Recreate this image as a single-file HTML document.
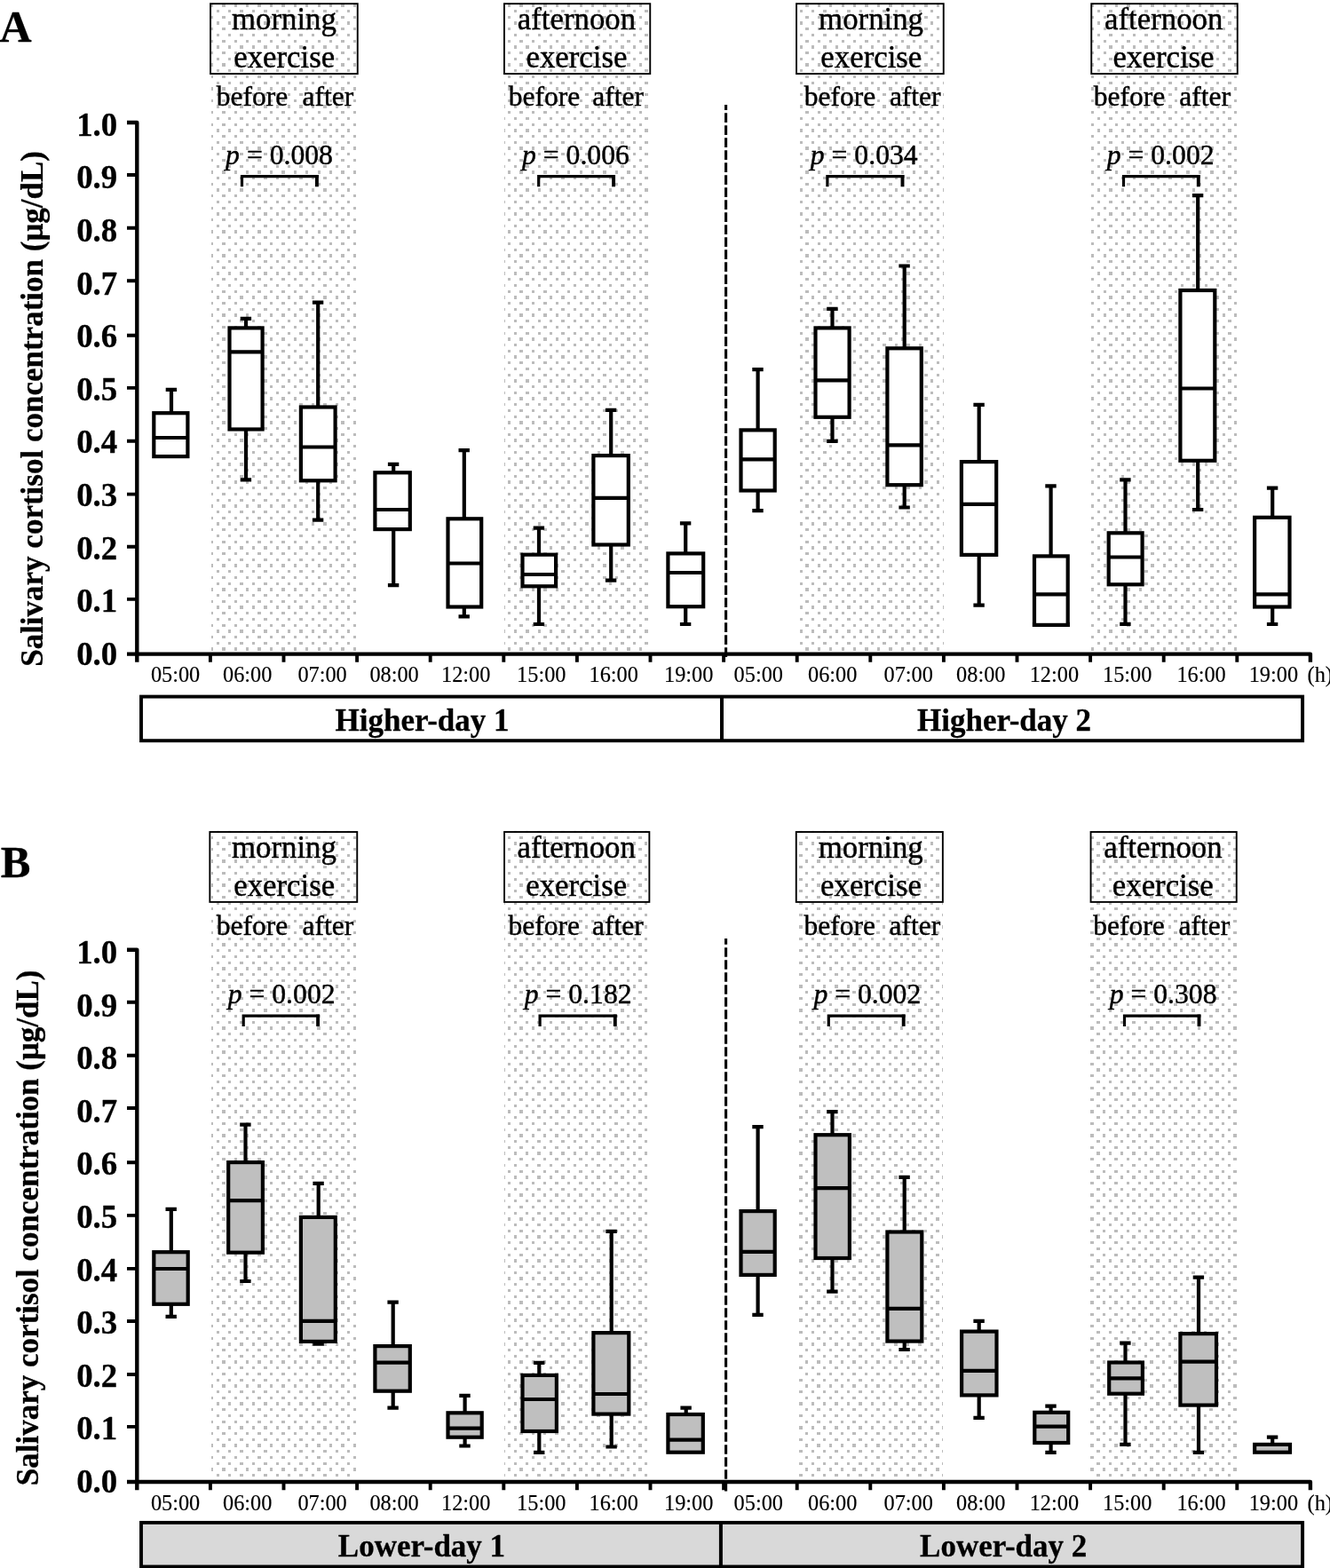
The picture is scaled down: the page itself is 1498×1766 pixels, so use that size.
<!DOCTYPE html>
<html lang="en"><head><meta charset="utf-8"><title>Salivary cortisol concentration</title>
<style>html,body{margin:0;padding:0;background:#fff}svg{display:block}</style></head>
<body>
<svg width="1498" height="1766" viewBox="0 0 1498 1766" font-family="'Liberation Serif','Times New Roman',Times,serif" fill="#000">
<style>text{stroke:#000;stroke-width:0.45px;stroke-linejoin:round}text[font-weight=bold]{stroke-width:0.3px}text.t{stroke-width:0.15px}</style>
<defs><path id="dp" d="M0 1h4v3h-4zM7 8h3v3h-3zM14 1h3v3h-3zM20 8h4v3h-4zM27 1h3v3h-3zM34 8h3v3h-3zM40 1h4v3h-4zM47 8h4v3h-4zM54 1h3v3h-3zM61 8h3v3h-3zM67 1h4v3h-4zM74 8h3v3h-3zM81 1h3v3h-3zM87 8h4v3h-4zM94 1h3v3h-3zM101 8h3v3h-3zM108 1h3v3h-3zM114 8h4v3h-4zM121 1h3v3h-3zM128 8h3v3h-3zM134 1h4v3h-4zM141 8h3v3h-3zM148 1h3v3h-3zM154 8h4v3h-4zM161 1h4v3h-4zM168 8h3v3h-3zM175 1h3v3h-3zM181 8h4v3h-4zM188 1h3v3h-3zM195 8h3v3h-3zM201 1h4v3h-4zM208 8h3v3h-3zM215 1h3v3h-3zM222 8h3v3h-3zM228 1h4v3h-4zM235 8h3v3h-3zM242 1h3v3h-3zM248 8h4v3h-4zM255 1h3v3h-3zM262 8h3v3h-3zM268 1h4v3h-4zM275 8h4v3h-4zM282 1h3v3h-3zM289 8h3v3h-3zM0 14h4v4h-4zM7 21h3v3h-3zM14 14h3v4h-3zM20 21h4v3h-4zM27 14h3v4h-3zM34 21h3v3h-3zM40 14h4v4h-4zM47 21h4v3h-4zM54 14h3v4h-3zM61 21h3v3h-3zM67 14h4v4h-4zM74 21h3v3h-3zM81 14h3v4h-3zM87 21h4v3h-4zM94 14h3v4h-3zM101 21h3v3h-3zM108 14h3v4h-3zM114 21h4v3h-4zM121 14h3v4h-3zM128 21h3v3h-3zM134 14h4v4h-4zM141 21h3v3h-3zM148 14h3v4h-3zM154 21h4v3h-4zM161 14h4v4h-4zM168 21h3v3h-3zM175 14h3v4h-3zM181 21h4v3h-4zM188 14h3v4h-3zM195 21h3v3h-3zM201 14h4v4h-4zM208 21h3v3h-3zM215 14h3v4h-3zM222 21h3v3h-3zM228 14h4v4h-4zM235 21h3v3h-3zM242 14h3v4h-3zM248 21h4v3h-4zM255 14h3v4h-3zM262 21h3v3h-3zM268 14h4v4h-4zM275 21h4v3h-4zM282 14h3v4h-3zM289 21h3v3h-3zM0 28h4v3h-4zM7 34h3v4h-3zM14 28h3v3h-3zM20 34h4v4h-4zM27 28h3v3h-3zM34 34h3v4h-3zM40 28h4v3h-4zM47 34h4v4h-4zM54 28h3v3h-3zM61 34h3v4h-3zM67 28h4v3h-4zM74 34h3v4h-3zM81 28h3v3h-3zM87 34h4v4h-4zM94 28h3v3h-3zM101 34h3v4h-3zM108 28h3v3h-3zM114 34h4v4h-4zM121 28h3v3h-3zM128 34h3v4h-3zM134 28h4v3h-4zM141 34h3v4h-3zM148 28h3v3h-3zM154 34h4v4h-4zM161 28h4v3h-4zM168 34h3v4h-3zM175 28h3v3h-3zM181 34h4v4h-4zM188 28h3v3h-3zM195 34h3v4h-3zM201 28h4v3h-4zM208 34h3v4h-3zM215 28h3v3h-3zM222 34h3v4h-3zM228 28h4v3h-4zM235 34h3v4h-3zM242 28h3v3h-3zM248 34h4v4h-4zM255 28h3v3h-3zM262 34h3v4h-3zM268 28h4v3h-4zM275 34h4v4h-4zM282 28h3v3h-3zM289 34h3v4h-3zM0 41h4v3h-4zM7 48h3v3h-3zM14 41h3v3h-3zM20 48h4v3h-4zM27 41h3v3h-3zM34 48h3v3h-3zM40 41h4v3h-4zM47 48h4v3h-4zM54 41h3v3h-3zM61 48h3v3h-3zM67 41h4v3h-4zM74 48h3v3h-3zM81 41h3v3h-3zM87 48h4v3h-4zM94 41h3v3h-3zM101 48h3v3h-3zM108 41h3v3h-3zM114 48h4v3h-4zM121 41h3v3h-3zM128 48h3v3h-3zM134 41h4v3h-4zM141 48h3v3h-3zM148 41h3v3h-3zM154 48h4v3h-4zM161 41h4v3h-4zM168 48h3v3h-3zM175 41h3v3h-3zM181 48h4v3h-4zM188 41h3v3h-3zM195 48h3v3h-3zM201 41h4v3h-4zM208 48h3v3h-3zM215 41h3v3h-3zM222 48h3v3h-3zM228 41h4v3h-4zM235 48h3v3h-3zM242 41h3v3h-3zM248 48h4v3h-4zM255 41h3v3h-3zM262 48h3v3h-3zM268 41h4v3h-4zM275 48h4v3h-4zM282 41h3v3h-3zM289 48h3v3h-3zM0 55h4v3h-4zM7 61h3v4h-3zM14 55h3v3h-3zM20 61h4v4h-4zM27 55h3v3h-3zM34 61h3v4h-3zM40 55h4v3h-4zM47 61h4v4h-4zM54 55h3v3h-3zM61 61h3v4h-3zM67 55h4v3h-4zM74 61h3v4h-3zM81 55h3v3h-3zM87 61h4v4h-4zM94 55h3v3h-3zM101 61h3v4h-3zM108 55h3v3h-3zM114 61h4v4h-4zM121 55h3v3h-3zM128 61h3v4h-3zM134 55h4v3h-4zM141 61h3v4h-3zM148 55h3v3h-3zM154 61h4v4h-4zM161 55h4v3h-4zM168 61h3v4h-3zM175 55h3v3h-3zM181 61h4v4h-4zM188 55h3v3h-3zM195 61h3v4h-3zM201 55h4v3h-4zM208 61h3v4h-3zM215 55h3v3h-3zM222 61h3v4h-3zM228 55h4v3h-4zM235 61h3v4h-3zM242 55h3v3h-3zM248 61h4v4h-4zM255 55h3v3h-3zM262 61h3v4h-3zM268 55h4v3h-4zM275 61h4v4h-4zM282 55h3v3h-3zM289 61h3v4h-3zM0 68h4v3h-4zM7 75h3v3h-3zM14 68h3v3h-3zM20 75h4v3h-4zM27 68h3v3h-3zM34 75h3v3h-3zM40 68h4v3h-4zM47 75h4v3h-4zM54 68h3v3h-3zM61 75h3v3h-3zM67 68h4v3h-4zM74 75h3v3h-3zM81 68h3v3h-3zM87 75h4v3h-4zM94 68h3v3h-3zM101 75h3v3h-3zM108 68h3v3h-3zM114 75h4v3h-4zM121 68h3v3h-3zM128 75h3v3h-3zM134 68h4v3h-4zM141 75h3v3h-3zM148 68h3v3h-3zM154 75h4v3h-4zM161 68h4v3h-4zM168 75h3v3h-3zM175 68h3v3h-3zM181 75h4v3h-4zM188 68h3v3h-3zM195 75h3v3h-3zM201 68h4v3h-4zM208 75h3v3h-3zM215 68h3v3h-3zM222 75h3v3h-3zM228 68h4v3h-4zM235 75h3v3h-3zM242 68h3v3h-3zM248 75h4v3h-4zM255 68h3v3h-3zM262 75h3v3h-3zM268 68h4v3h-4zM275 75h4v3h-4zM282 68h3v3h-3zM289 75h3v3h-3zM0 81h4v4h-4zM7 88h3v3h-3zM14 81h3v4h-3zM20 88h4v3h-4zM27 81h3v4h-3zM34 88h3v3h-3zM40 81h4v4h-4zM47 88h4v3h-4zM54 81h3v4h-3zM61 88h3v3h-3zM67 81h4v4h-4zM74 88h3v3h-3zM81 81h3v4h-3zM87 88h4v3h-4zM94 81h3v4h-3zM101 88h3v3h-3zM108 81h3v4h-3zM114 88h4v3h-4zM121 81h3v4h-3zM128 88h3v3h-3zM134 81h4v4h-4zM141 88h3v3h-3zM148 81h3v4h-3zM154 88h4v3h-4zM161 81h4v4h-4zM168 88h3v3h-3zM175 81h3v4h-3zM181 88h4v3h-4zM188 81h3v4h-3zM195 88h3v3h-3zM201 81h4v4h-4zM208 88h3v3h-3zM215 81h3v4h-3zM222 88h3v3h-3zM228 81h4v4h-4zM235 88h3v3h-3zM242 81h3v4h-3zM248 88h4v3h-4zM255 81h3v4h-3zM262 88h3v3h-3zM268 81h4v4h-4zM275 88h4v3h-4zM282 81h3v4h-3zM289 88h3v3h-3zM0 95h4v3h-4zM7 102h3v3h-3zM14 95h3v3h-3zM20 102h4v3h-4zM27 95h3v3h-3zM34 102h3v3h-3zM40 95h4v3h-4zM47 102h4v3h-4zM54 95h3v3h-3zM61 102h3v3h-3zM67 95h4v3h-4zM74 102h3v3h-3zM81 95h3v3h-3zM87 102h4v3h-4zM94 95h3v3h-3zM101 102h3v3h-3zM108 95h3v3h-3zM114 102h4v3h-4zM121 95h3v3h-3zM128 102h3v3h-3zM134 95h4v3h-4zM141 102h3v3h-3zM148 95h3v3h-3zM154 102h4v3h-4zM161 95h4v3h-4zM168 102h3v3h-3zM175 95h3v3h-3zM181 102h4v3h-4zM188 95h3v3h-3zM195 102h3v3h-3zM201 95h4v3h-4zM208 102h3v3h-3zM215 95h3v3h-3zM222 102h3v3h-3zM228 95h4v3h-4zM235 102h3v3h-3zM242 95h3v3h-3zM248 102h4v3h-4zM255 95h3v3h-3zM262 102h3v3h-3zM268 95h4v3h-4zM275 102h4v3h-4zM282 95h3v3h-3zM289 102h3v3h-3zM0 108h4v4h-4zM7 115h3v3h-3zM14 108h3v4h-3zM20 115h4v3h-4zM27 108h3v4h-3zM34 115h3v3h-3zM40 108h4v4h-4zM47 115h4v3h-4zM54 108h3v4h-3zM61 115h3v3h-3zM67 108h4v4h-4zM74 115h3v3h-3zM81 108h3v4h-3zM87 115h4v3h-4zM94 108h3v4h-3zM101 115h3v3h-3zM108 108h3v4h-3zM114 115h4v3h-4zM121 108h3v4h-3zM128 115h3v3h-3zM134 108h4v4h-4zM141 115h3v3h-3zM148 108h3v4h-3zM154 115h4v3h-4zM161 108h4v4h-4zM168 115h3v3h-3zM175 108h3v4h-3zM181 115h4v3h-4zM188 108h3v4h-3zM195 115h3v3h-3zM201 108h4v4h-4zM208 115h3v3h-3zM215 108h3v4h-3zM222 115h3v3h-3zM228 108h4v4h-4zM235 115h3v3h-3zM242 108h3v4h-3zM248 115h4v3h-4zM255 108h3v4h-3zM262 115h3v3h-3zM268 108h4v4h-4zM275 115h4v3h-4zM282 108h3v4h-3zM289 115h3v3h-3zM0 122h4v3h-4zM7 128h3v4h-3zM14 122h3v3h-3zM20 128h4v4h-4zM27 122h3v3h-3zM34 128h3v4h-3zM40 122h4v3h-4zM47 128h4v4h-4zM54 122h3v3h-3zM61 128h3v4h-3zM67 122h4v3h-4zM74 128h3v4h-3zM81 122h3v3h-3zM87 128h4v4h-4zM94 122h3v3h-3zM101 128h3v4h-3zM108 122h3v3h-3zM114 128h4v4h-4zM121 122h3v3h-3zM128 128h3v4h-3zM134 122h4v3h-4zM141 128h3v4h-3zM148 122h3v3h-3zM154 128h4v4h-4zM161 122h4v3h-4zM168 128h3v4h-3zM175 122h3v3h-3zM181 128h4v4h-4zM188 122h3v3h-3zM195 128h3v4h-3zM201 122h4v3h-4zM208 128h3v4h-3zM215 122h3v3h-3zM222 128h3v4h-3zM228 122h4v3h-4zM235 128h3v4h-3zM242 122h3v3h-3zM248 128h4v4h-4zM255 122h3v3h-3zM262 128h3v4h-3zM268 122h4v3h-4zM275 128h4v4h-4zM282 122h3v3h-3zM289 128h3v4h-3zM0 135h4v3h-4zM7 142h3v3h-3zM14 135h3v3h-3zM20 142h4v3h-4zM27 135h3v3h-3zM34 142h3v3h-3zM40 135h4v3h-4zM47 142h4v3h-4zM54 135h3v3h-3zM61 142h3v3h-3zM67 135h4v3h-4zM74 142h3v3h-3zM81 135h3v3h-3zM87 142h4v3h-4zM94 135h3v3h-3zM101 142h3v3h-3zM108 135h3v3h-3zM114 142h4v3h-4zM121 135h3v3h-3zM128 142h3v3h-3zM134 135h4v3h-4zM141 142h3v3h-3zM148 135h3v3h-3zM154 142h4v3h-4zM161 135h4v3h-4zM168 142h3v3h-3zM175 135h3v3h-3zM181 142h4v3h-4zM188 135h3v3h-3zM195 142h3v3h-3zM201 135h4v3h-4zM208 142h3v3h-3zM215 135h3v3h-3zM222 142h3v3h-3zM228 135h4v3h-4zM235 142h3v3h-3zM242 135h3v3h-3zM248 142h4v3h-4zM255 135h3v3h-3zM262 142h3v3h-3zM268 135h4v3h-4zM275 142h4v3h-4zM282 135h3v3h-3zM289 142h3v3h-3zM0 149h4v3h-4zM7 155h3v4h-3zM14 149h3v3h-3zM20 155h4v4h-4zM27 149h3v3h-3zM34 155h3v4h-3zM40 149h4v3h-4zM47 155h4v4h-4zM54 149h3v3h-3zM61 155h3v4h-3zM67 149h4v3h-4zM74 155h3v4h-3zM81 149h3v3h-3zM87 155h4v4h-4zM94 149h3v3h-3zM101 155h3v4h-3zM108 149h3v3h-3zM114 155h4v4h-4zM121 149h3v3h-3zM128 155h3v4h-3zM134 149h4v3h-4zM141 155h3v4h-3zM148 149h3v3h-3zM154 155h4v4h-4zM161 149h4v3h-4zM168 155h3v4h-3zM175 149h3v3h-3zM181 155h4v4h-4zM188 149h3v3h-3zM195 155h3v4h-3zM201 149h4v3h-4zM208 155h3v4h-3zM215 149h3v3h-3zM222 155h3v4h-3zM228 149h4v3h-4zM235 155h3v4h-3zM242 149h3v3h-3zM248 155h4v4h-4zM255 149h3v3h-3zM262 155h3v4h-3zM268 149h4v3h-4zM275 155h4v4h-4zM282 149h3v3h-3zM289 155h3v4h-3zM0 162h4v3h-4zM7 169h3v3h-3zM14 162h3v3h-3zM20 169h4v3h-4zM27 162h3v3h-3zM34 169h3v3h-3zM40 162h4v3h-4zM47 169h4v3h-4zM54 162h3v3h-3zM61 169h3v3h-3zM67 162h4v3h-4zM74 169h3v3h-3zM81 162h3v3h-3zM87 169h4v3h-4zM94 162h3v3h-3zM101 169h3v3h-3zM108 162h3v3h-3zM114 169h4v3h-4zM121 162h3v3h-3zM128 169h3v3h-3zM134 162h4v3h-4zM141 169h3v3h-3zM148 162h3v3h-3zM154 169h4v3h-4zM161 162h4v3h-4zM168 169h3v3h-3zM175 162h3v3h-3zM181 169h4v3h-4zM188 162h3v3h-3zM195 169h3v3h-3zM201 162h4v3h-4zM208 169h3v3h-3zM215 162h3v3h-3zM222 169h3v3h-3zM228 162h4v3h-4zM235 169h3v3h-3zM242 162h3v3h-3zM248 169h4v3h-4zM255 162h3v3h-3zM262 169h3v3h-3zM268 162h4v3h-4zM275 169h4v3h-4zM282 162h3v3h-3zM289 169h3v3h-3zM0 175h4v4h-4zM7 182h3v3h-3zM14 175h3v4h-3zM20 182h4v3h-4zM27 175h3v4h-3zM34 182h3v3h-3zM40 175h4v4h-4zM47 182h4v3h-4zM54 175h3v4h-3zM61 182h3v3h-3zM67 175h4v4h-4zM74 182h3v3h-3zM81 175h3v4h-3zM87 182h4v3h-4zM94 175h3v4h-3zM101 182h3v3h-3zM108 175h3v4h-3zM114 182h4v3h-4zM121 175h3v4h-3zM128 182h3v3h-3zM134 175h4v4h-4zM141 182h3v3h-3zM148 175h3v4h-3zM154 182h4v3h-4zM161 175h4v4h-4zM168 182h3v3h-3zM175 175h3v4h-3zM181 182h4v3h-4zM188 175h3v4h-3zM195 182h3v3h-3zM201 175h4v4h-4zM208 182h3v3h-3zM215 175h3v4h-3zM222 182h3v3h-3zM228 175h4v4h-4zM235 182h3v3h-3zM242 175h3v4h-3zM248 182h4v3h-4zM255 175h3v4h-3zM262 182h3v3h-3zM268 175h4v4h-4zM275 182h4v3h-4zM282 175h3v4h-3zM289 182h3v3h-3zM0 189h4v3h-4zM7 196h3v3h-3zM14 189h3v3h-3zM20 196h4v3h-4zM27 189h3v3h-3zM34 196h3v3h-3zM40 189h4v3h-4zM47 196h4v3h-4zM54 189h3v3h-3zM61 196h3v3h-3zM67 189h4v3h-4zM74 196h3v3h-3zM81 189h3v3h-3zM87 196h4v3h-4zM94 189h3v3h-3zM101 196h3v3h-3zM108 189h3v3h-3zM114 196h4v3h-4zM121 189h3v3h-3zM128 196h3v3h-3zM134 189h4v3h-4zM141 196h3v3h-3zM148 189h3v3h-3zM154 196h4v3h-4zM161 189h4v3h-4zM168 196h3v3h-3zM175 189h3v3h-3zM181 196h4v3h-4zM188 189h3v3h-3zM195 196h3v3h-3zM201 189h4v3h-4zM208 196h3v3h-3zM215 189h3v3h-3zM222 196h3v3h-3zM228 189h4v3h-4zM235 196h3v3h-3zM242 189h3v3h-3zM248 196h4v3h-4zM255 189h3v3h-3zM262 196h3v3h-3zM268 189h4v3h-4zM275 196h4v3h-4zM282 189h3v3h-3zM289 196h3v3h-3zM0 202h4v4h-4zM7 209h3v3h-3zM14 202h3v4h-3zM20 209h4v3h-4zM27 202h3v4h-3zM34 209h3v3h-3zM40 202h4v4h-4zM47 209h4v3h-4zM54 202h3v4h-3zM61 209h3v3h-3zM67 202h4v4h-4zM74 209h3v3h-3zM81 202h3v4h-3zM87 209h4v3h-4zM94 202h3v4h-3zM101 209h3v3h-3zM108 202h3v4h-3zM114 209h4v3h-4zM121 202h3v4h-3zM128 209h3v3h-3zM134 202h4v4h-4zM141 209h3v3h-3zM148 202h3v4h-3zM154 209h4v3h-4zM161 202h4v4h-4zM168 209h3v3h-3zM175 202h3v4h-3zM181 209h4v3h-4zM188 202h3v4h-3zM195 209h3v3h-3zM201 202h4v4h-4zM208 209h3v3h-3zM215 202h3v4h-3zM222 209h3v3h-3zM228 202h4v4h-4zM235 209h3v3h-3zM242 202h3v4h-3zM248 209h4v3h-4zM255 202h3v4h-3zM262 209h3v3h-3zM268 202h4v4h-4zM275 209h4v3h-4zM282 202h3v4h-3zM289 209h3v3h-3zM0 216h4v3h-4zM7 222h3v4h-3zM14 216h3v3h-3zM20 222h4v4h-4zM27 216h3v3h-3zM34 222h3v4h-3zM40 216h4v3h-4zM47 222h4v4h-4zM54 216h3v3h-3zM61 222h3v4h-3zM67 216h4v3h-4zM74 222h3v4h-3zM81 216h3v3h-3zM87 222h4v4h-4zM94 216h3v3h-3zM101 222h3v4h-3zM108 216h3v3h-3zM114 222h4v4h-4zM121 216h3v3h-3zM128 222h3v4h-3zM134 216h4v3h-4zM141 222h3v4h-3zM148 216h3v3h-3zM154 222h4v4h-4zM161 216h4v3h-4zM168 222h3v4h-3zM175 216h3v3h-3zM181 222h4v4h-4zM188 216h3v3h-3zM195 222h3v4h-3zM201 216h4v3h-4zM208 222h3v4h-3zM215 216h3v3h-3zM222 222h3v4h-3zM228 216h4v3h-4zM235 222h3v4h-3zM242 216h3v3h-3zM248 222h4v4h-4zM255 216h3v3h-3zM262 222h3v4h-3zM268 216h4v3h-4zM275 222h4v4h-4zM282 216h3v3h-3zM289 222h3v4h-3zM0 229h4v3h-4zM7 236h3v3h-3zM14 229h3v3h-3zM20 236h4v3h-4zM27 229h3v3h-3zM34 236h3v3h-3zM40 229h4v3h-4zM47 236h4v3h-4zM54 229h3v3h-3zM61 236h3v3h-3zM67 229h4v3h-4zM74 236h3v3h-3zM81 229h3v3h-3zM87 236h4v3h-4zM94 229h3v3h-3zM101 236h3v3h-3zM108 229h3v3h-3zM114 236h4v3h-4zM121 229h3v3h-3zM128 236h3v3h-3zM134 229h4v3h-4zM141 236h3v3h-3zM148 229h3v3h-3zM154 236h4v3h-4zM161 229h4v3h-4zM168 236h3v3h-3zM175 229h3v3h-3zM181 236h4v3h-4zM188 229h3v3h-3zM195 236h3v3h-3zM201 229h4v3h-4zM208 236h3v3h-3zM215 229h3v3h-3zM222 236h3v3h-3zM228 229h4v3h-4zM235 236h3v3h-3zM242 229h3v3h-3zM248 236h4v3h-4zM255 229h3v3h-3zM262 236h3v3h-3zM268 229h4v3h-4zM275 236h4v3h-4zM282 229h3v3h-3zM289 236h3v3h-3zM0 243h4v3h-4zM7 249h3v4h-3zM14 243h3v3h-3zM20 249h4v4h-4zM27 243h3v3h-3zM34 249h3v4h-3zM40 243h4v3h-4zM47 249h4v4h-4zM54 243h3v3h-3zM61 249h3v4h-3zM67 243h4v3h-4zM74 249h3v4h-3zM81 243h3v3h-3zM87 249h4v4h-4zM94 243h3v3h-3zM101 249h3v4h-3zM108 243h3v3h-3zM114 249h4v4h-4zM121 243h3v3h-3zM128 249h3v4h-3zM134 243h4v3h-4zM141 249h3v4h-3zM148 243h3v3h-3zM154 249h4v4h-4zM161 243h4v3h-4zM168 249h3v4h-3zM175 243h3v3h-3zM181 249h4v4h-4zM188 243h3v3h-3zM195 249h3v4h-3zM201 243h4v3h-4zM208 249h3v4h-3zM215 243h3v3h-3zM222 249h3v4h-3zM228 243h4v3h-4zM235 249h3v4h-3zM242 243h3v3h-3zM248 249h4v4h-4zM255 243h3v3h-3zM262 249h3v4h-3zM268 243h4v3h-4zM275 249h4v4h-4zM282 243h3v3h-3zM289 249h3v4h-3zM0 256h4v3h-4zM7 263h3v3h-3zM14 256h3v3h-3zM20 263h4v3h-4zM27 256h3v3h-3zM34 263h3v3h-3zM40 256h4v3h-4zM47 263h4v3h-4zM54 256h3v3h-3zM61 263h3v3h-3zM67 256h4v3h-4zM74 263h3v3h-3zM81 256h3v3h-3zM87 263h4v3h-4zM94 256h3v3h-3zM101 263h3v3h-3zM108 256h3v3h-3zM114 263h4v3h-4zM121 256h3v3h-3zM128 263h3v3h-3zM134 256h4v3h-4zM141 263h3v3h-3zM148 256h3v3h-3zM154 263h4v3h-4zM161 256h4v3h-4zM168 263h3v3h-3zM175 256h3v3h-3zM181 263h4v3h-4zM188 256h3v3h-3zM195 263h3v3h-3zM201 256h4v3h-4zM208 263h3v3h-3zM215 256h3v3h-3zM222 263h3v3h-3zM228 256h4v3h-4zM235 263h3v3h-3zM242 256h3v3h-3zM248 263h4v3h-4zM255 256h3v3h-3zM262 263h3v3h-3zM268 256h4v3h-4zM275 263h4v3h-4zM282 256h3v3h-3zM289 263h3v3h-3zM0 269h4v4h-4zM7 276h3v3h-3zM14 269h3v4h-3zM20 276h4v3h-4zM27 269h3v4h-3zM34 276h3v3h-3zM40 269h4v4h-4zM47 276h4v3h-4zM54 269h3v4h-3zM61 276h3v3h-3zM67 269h4v4h-4zM74 276h3v3h-3zM81 269h3v4h-3zM87 276h4v3h-4zM94 269h3v4h-3zM101 276h3v3h-3zM108 269h3v4h-3zM114 276h4v3h-4zM121 269h3v4h-3zM128 276h3v3h-3zM134 269h4v4h-4zM141 276h3v3h-3zM148 269h3v4h-3zM154 276h4v3h-4zM161 269h4v4h-4zM168 276h3v3h-3zM175 269h3v4h-3zM181 276h4v3h-4zM188 269h3v4h-3zM195 276h3v3h-3zM201 269h4v4h-4zM208 276h3v3h-3zM215 269h3v4h-3zM222 276h3v3h-3zM228 269h4v4h-4zM235 276h3v3h-3zM242 269h3v4h-3zM248 276h4v3h-4zM255 269h3v4h-3zM262 276h3v3h-3zM268 269h4v4h-4zM275 276h4v3h-4zM282 269h3v4h-3zM289 276h3v3h-3z" fill="#bcbcbc" shape-rendering="crispEdges"/><pattern id="dotsA" x="250" y="84" width="295" height="282" patternUnits="userSpaceOnUse"><use href="#dp"/></pattern><pattern id="dotsB" x="250" y="229" width="67" height="282" patternUnits="userSpaceOnUse"><path d="M0 1h4v3h-4zM7 8h3v3h-3zM14 1h3v3h-3zM20 8h4v3h-4zM27 1h3v3h-3zM34 8h3v3h-3zM40 1h4v3h-4zM47 8h4v3h-4zM54 1h3v3h-3zM61 8h3v3h-3zM0 14h4v4h-4zM7 21h3v3h-3zM14 14h3v4h-3zM20 21h4v3h-4zM27 14h3v4h-3zM34 21h3v3h-3zM40 14h4v4h-4zM47 21h4v3h-4zM54 14h3v4h-3zM61 21h3v3h-3zM0 28h4v3h-4zM7 34h3v4h-3zM14 28h3v3h-3zM20 34h4v4h-4zM27 28h3v3h-3zM34 34h3v4h-3zM40 28h4v3h-4zM47 34h4v4h-4zM54 28h3v3h-3zM61 34h3v4h-3zM0 41h4v3h-4zM7 48h3v3h-3zM14 41h3v3h-3zM20 48h4v3h-4zM27 41h3v3h-3zM34 48h3v3h-3zM40 41h4v3h-4zM47 48h4v3h-4zM54 41h3v3h-3zM61 48h3v3h-3zM0 55h4v3h-4zM7 61h3v4h-3zM14 55h3v3h-3zM20 61h4v4h-4zM27 55h3v3h-3zM34 61h3v4h-3zM40 55h4v3h-4zM47 61h4v4h-4zM54 55h3v3h-3zM61 61h3v4h-3zM0 68h4v3h-4zM7 75h3v3h-3zM14 68h3v3h-3zM20 75h4v3h-4zM27 68h3v3h-3zM34 75h3v3h-3zM40 68h4v3h-4zM47 75h4v3h-4zM54 68h3v3h-3zM61 75h3v3h-3zM0 81h4v4h-4zM7 88h3v3h-3zM14 81h3v4h-3zM20 88h4v3h-4zM27 81h3v4h-3zM34 88h3v3h-3zM40 81h4v4h-4zM47 88h4v3h-4zM54 81h3v4h-3zM61 88h3v3h-3zM0 95h4v3h-4zM7 102h3v3h-3zM14 95h3v3h-3zM20 102h4v3h-4zM27 95h3v3h-3zM34 102h3v3h-3zM40 95h4v3h-4zM47 102h4v3h-4zM54 95h3v3h-3zM61 102h3v3h-3zM0 108h4v4h-4zM7 115h3v3h-3zM14 108h3v4h-3zM20 115h4v3h-4zM27 108h3v4h-3zM34 115h3v3h-3zM40 108h4v4h-4zM47 115h4v3h-4zM54 108h3v4h-3zM61 115h3v3h-3zM0 122h4v3h-4zM7 128h3v4h-3zM14 122h3v3h-3zM20 128h4v4h-4zM27 122h3v3h-3zM34 128h3v4h-3zM40 122h4v3h-4zM47 128h4v4h-4zM54 122h3v3h-3zM61 128h3v4h-3zM0 135h4v3h-4zM7 142h3v3h-3zM14 135h3v3h-3zM20 142h4v3h-4zM27 135h3v3h-3zM34 142h3v3h-3zM40 135h4v3h-4zM47 142h4v3h-4zM54 135h3v3h-3zM61 142h3v3h-3zM0 149h4v3h-4zM7 155h3v4h-3zM14 149h3v3h-3zM20 155h4v4h-4zM27 149h3v3h-3zM34 155h3v4h-3zM40 149h4v3h-4zM47 155h4v4h-4zM54 149h3v3h-3zM61 155h3v4h-3zM0 162h4v3h-4zM7 169h3v3h-3zM14 162h3v3h-3zM20 169h4v3h-4zM27 162h3v3h-3zM34 169h3v3h-3zM40 162h4v3h-4zM47 169h4v3h-4zM54 162h3v3h-3zM61 169h3v3h-3zM0 175h4v4h-4zM7 182h3v3h-3zM14 175h3v4h-3zM20 182h4v3h-4zM27 175h3v4h-3zM34 182h3v3h-3zM40 175h4v4h-4zM47 182h4v3h-4zM54 175h3v4h-3zM61 182h3v3h-3zM0 189h4v3h-4zM7 196h3v3h-3zM14 189h3v3h-3zM20 196h4v3h-4zM27 189h3v3h-3zM34 196h3v3h-3zM40 189h4v3h-4zM47 196h4v3h-4zM54 189h3v3h-3zM61 196h3v3h-3zM0 202h4v4h-4zM7 209h3v3h-3zM14 202h3v4h-3zM20 209h4v3h-4zM27 202h3v4h-3zM34 209h3v3h-3zM40 202h4v4h-4zM47 209h4v3h-4zM54 202h3v4h-3zM61 209h3v3h-3zM0 216h4v3h-4zM7 222h3v4h-3zM14 216h3v3h-3zM20 222h4v4h-4zM27 216h3v3h-3zM34 222h3v4h-3zM40 216h4v3h-4zM47 222h4v4h-4zM54 216h3v3h-3zM61 222h3v4h-3zM0 229h4v3h-4zM7 236h3v3h-3zM14 229h3v3h-3zM20 236h4v3h-4zM27 229h3v3h-3zM34 236h3v3h-3zM40 229h4v3h-4zM47 236h4v3h-4zM54 229h3v3h-3zM61 236h3v3h-3zM0 243h4v3h-4zM7 249h3v4h-3zM14 243h3v3h-3zM20 249h4v4h-4zM27 243h3v3h-3zM34 249h3v4h-3zM40 243h4v3h-4zM47 249h4v4h-4zM54 243h3v3h-3zM61 249h3v4h-3zM0 256h4v3h-4zM7 263h3v3h-3zM14 256h3v3h-3zM20 263h4v3h-4zM27 256h3v3h-3zM34 263h3v3h-3zM40 256h4v3h-4zM47 263h4v3h-4zM54 256h3v3h-3zM61 263h3v3h-3zM0 269h4v4h-4zM7 276h3v3h-3zM14 269h3v4h-3zM20 276h4v3h-4zM27 269h3v4h-3zM34 276h3v3h-3zM40 269h4v4h-4zM47 276h4v3h-4zM54 269h3v4h-3zM61 276h3v3h-3z" fill="#bcbcbc" shape-rendering="crispEdges"/></pattern></defs>
<rect width="1498" height="1766" fill="#fff"/>
<rect x="238" y="3" width="164" height="731.4" fill="url(#dotsA)"/>
<rect x="568" y="3" width="164" height="731.4" fill="url(#dotsA)"/>
<rect x="898" y="3" width="165" height="731.4" fill="url(#dotsA)"/>
<rect x="1228" y="3" width="165" height="731.4" fill="url(#dotsA)"/>
<rect x="237.05" y="4.2" width="165.7" height="78.9" fill="none" stroke="#000" stroke-width="1.9"/>
<text x="319.95" y="32.75" font-size="34.8" text-anchor="middle">morning</text>
<text x="320.2" y="76.1" font-size="34.8" text-anchor="middle">exercise</text>
<text x="283.9" y="119.4" font-size="31.5" text-anchor="middle">before</text>
<text x="369.45" y="119.4" font-size="31.5" text-anchor="middle">after</text>
<text x="314.55" y="184.8" font-size="31.7" text-anchor="middle"><tspan font-style="italic">p</tspan> = 0.008</text>
<path d="M272.5 210.3V198.6H358.8" fill="none" stroke="#000" stroke-width="3.2"/>
<path d="M356.9 197V210.3" fill="none" stroke="#000" stroke-width="3.9"/>
<rect x="567.95" y="4.2" width="164.3" height="78.9" fill="none" stroke="#000" stroke-width="1.9"/>
<text x="649.45" y="32.75" font-size="34.8" text-anchor="middle">afternoon</text>
<text x="649.45" y="76.1" font-size="34.8" text-anchor="middle">exercise</text>
<text x="612.95" y="119.4" font-size="31.5" text-anchor="middle">before</text>
<text x="696.15" y="119.4" font-size="31.5" text-anchor="middle">after</text>
<text x="648.45" y="184.8" font-size="31.7" text-anchor="middle"><tspan font-style="italic">p</tspan> = 0.006</text>
<path d="M606.7 210.3V198.6H693" fill="none" stroke="#000" stroke-width="3.2"/>
<path d="M691.1 197V210.3" fill="none" stroke="#000" stroke-width="3.9"/>
<rect x="897.05" y="4.2" width="165.7" height="78.9" fill="none" stroke="#000" stroke-width="1.9"/>
<text x="981.05" y="32.75" font-size="34.8" text-anchor="middle">morning</text>
<text x="981.35" y="76.1" font-size="34.8" text-anchor="middle">exercise</text>
<text x="945.9" y="119.4" font-size="31.5" text-anchor="middle">before</text>
<text x="1030.75" y="119.4" font-size="31.5" text-anchor="middle">after</text>
<text x="973.25" y="184.8" font-size="31.7" text-anchor="middle"><tspan font-style="italic">p</tspan> = 0.034</text>
<path d="M931.9 210.3V198.6H1018.4" fill="none" stroke="#000" stroke-width="3.2"/>
<path d="M1016.5 197V210.3" fill="none" stroke="#000" stroke-width="3.9"/>
<rect x="1229.25" y="4.2" width="164.5" height="78.9" fill="none" stroke="#000" stroke-width="1.9"/>
<text x="1310.75" y="32.75" font-size="34.8" text-anchor="middle">afternoon</text>
<text x="1310.6" y="76.1" font-size="34.8" text-anchor="middle">exercise</text>
<text x="1271.95" y="119.4" font-size="31.5" text-anchor="middle">before</text>
<text x="1357.2" y="119.4" font-size="31.5" text-anchor="middle">after</text>
<text x="1307.15" y="184.8" font-size="31.7" text-anchor="middle"><tspan font-style="italic">p</tspan> = 0.002</text>
<path d="M1265.5 210.3V198.6H1351.7" fill="none" stroke="#000" stroke-width="3.2"/>
<path d="M1349.8 197V210.3" fill="none" stroke="#000" stroke-width="3.9"/>
<line x1="817.6" y1="118" x2="817.6" y2="740.6" stroke="#000" stroke-width="3.1" stroke-dasharray="10.65 3.35" stroke-dashoffset="4.75"/>
<path d="M193 465.2V438.9M186.7 438.9H199.1" fill="none" stroke="#000" stroke-width="4.2"/>
<rect x="173.3" y="465.2" width="38.1" height="48.9" fill="#fff" stroke="#000" stroke-width="4.2"/>
<path d="M173.3 493H211.4" fill="none" stroke="#000" stroke-width="4.2"/>
<path d="M277 369.4V358.8M270.7 358.8H283.1" fill="none" stroke="#000" stroke-width="4.2"/>
<path d="M277 483.5V540.4M270.7 540.4H283.1" fill="none" stroke="#000" stroke-width="4.2"/>
<rect x="258.5" y="369.4" width="37.1" height="114.1" fill="#fff" stroke="#000" stroke-width="4.2"/>
<path d="M258.5 396.4H295.6" fill="none" stroke="#000" stroke-width="4.2"/>
<path d="M358.2 458.5V340.6M351.9 340.6H364.3" fill="none" stroke="#000" stroke-width="4.2"/>
<path d="M358.2 541.3V585.7M351.9 585.7H364.3" fill="none" stroke="#000" stroke-width="4.2"/>
<rect x="338.9" y="458.5" width="38.7" height="82.8" fill="#fff" stroke="#000" stroke-width="4.2"/>
<path d="M338.9 503.5H377.6" fill="none" stroke="#000" stroke-width="4.2"/>
<path d="M443.2 532.3V522.9M436.9 522.9H449.3" fill="none" stroke="#000" stroke-width="4.2"/>
<path d="M443.2 596.1V659.2M436.9 659.2H449.3" fill="none" stroke="#000" stroke-width="4.2"/>
<rect x="422.4" y="532.3" width="39.4" height="63.8" fill="#fff" stroke="#000" stroke-width="4.2"/>
<path d="M422.4 574H461.8" fill="none" stroke="#000" stroke-width="4.2"/>
<path d="M522.8 584.3V507.2M516.5 507.2H528.9" fill="none" stroke="#000" stroke-width="4.2"/>
<path d="M522.8 683.5V694.3M516.5 694.3H528.9" fill="none" stroke="#000" stroke-width="4.2"/>
<rect x="504.5" y="584.3" width="37.7" height="99.2" fill="#fff" stroke="#000" stroke-width="4.2"/>
<path d="M504.5 634.5H542.2" fill="none" stroke="#000" stroke-width="4.2"/>
<path d="M607 624.7V594.7M600.7 594.7H613.1" fill="none" stroke="#000" stroke-width="4.2"/>
<path d="M607 660.3V703M600.7 703H613.1" fill="none" stroke="#000" stroke-width="4.2"/>
<rect x="588.5" y="624.7" width="37.6" height="35.6" fill="#fff" stroke="#000" stroke-width="4.2"/>
<path d="M588.5 647H626.1" fill="none" stroke="#000" stroke-width="4.2"/>
<path d="M688.2 513.1V461.9M681.9 461.9H694.3" fill="none" stroke="#000" stroke-width="4.2"/>
<path d="M688.2 613.5V653.7M681.9 653.7H694.3" fill="none" stroke="#000" stroke-width="4.2"/>
<rect x="668.4" y="513.1" width="39.4" height="100.4" fill="#fff" stroke="#000" stroke-width="4.2"/>
<path d="M668.4 560.8H707.8" fill="none" stroke="#000" stroke-width="4.2"/>
<path d="M772.2 623.4V589.4M765.9 589.4H778.3" fill="none" stroke="#000" stroke-width="4.2"/>
<path d="M772.2 683.2V703M765.9 703H778.3" fill="none" stroke="#000" stroke-width="4.2"/>
<rect x="752.4" y="623.4" width="39.8" height="59.8" fill="#fff" stroke="#000" stroke-width="4.2"/>
<path d="M752.4 645H792.2" fill="none" stroke="#000" stroke-width="4.2"/>
<path d="M853.6 484.4V416.1M847.3 416.1H859.7" fill="none" stroke="#000" stroke-width="4.2"/>
<path d="M853.6 552.5V575.2M847.3 575.2H859.7" fill="none" stroke="#000" stroke-width="4.2"/>
<rect x="834.5" y="484.4" width="38.2" height="68.1" fill="#fff" stroke="#000" stroke-width="4.2"/>
<path d="M834.5 517.4H872.7" fill="none" stroke="#000" stroke-width="4.2"/>
<path d="M937.5 369.4V347.8M931.2 347.8H943.6" fill="none" stroke="#000" stroke-width="4.2"/>
<path d="M937.5 469.8V496.8M931.2 496.8H943.6" fill="none" stroke="#000" stroke-width="4.2"/>
<rect x="918.5" y="369.4" width="38.1" height="100.4" fill="#fff" stroke="#000" stroke-width="4.2"/>
<path d="M918.5 428.3H956.6" fill="none" stroke="#000" stroke-width="4.2"/>
<path d="M1018.7 392.3V299.5M1012.4 299.5H1024.8" fill="none" stroke="#000" stroke-width="4.2"/>
<path d="M1018.7 546.2V571.5M1012.4 571.5H1024.8" fill="none" stroke="#000" stroke-width="4.2"/>
<rect x="999.4" y="392.3" width="38.4" height="153.9" fill="#fff" stroke="#000" stroke-width="4.2"/>
<path d="M999.4 501.3H1037.8" fill="none" stroke="#000" stroke-width="4.2"/>
<path d="M1102.7 520.1V455.9M1096.4 455.9H1108.8" fill="none" stroke="#000" stroke-width="4.2"/>
<path d="M1102.7 624.9V681.6M1096.4 681.6H1108.8" fill="none" stroke="#000" stroke-width="4.2"/>
<rect x="1082.9" y="520.1" width="39.3" height="104.8" fill="#fff" stroke="#000" stroke-width="4.2"/>
<path d="M1082.9 567.8H1122.2" fill="none" stroke="#000" stroke-width="4.2"/>
<path d="M1183.6 626.4V547.3M1177.3 547.3H1189.7" fill="none" stroke="#000" stroke-width="4.2"/>
<path d="M1162.9 703.4H1204.8" fill="none" stroke="#000" stroke-width="5.2"/>
<rect x="1165" y="626.4" width="37.7" height="77.5" fill="#fff" stroke="#000" stroke-width="4.2"/>
<path d="M1165 669.4H1202.7" fill="none" stroke="#000" stroke-width="4.2"/>
<path d="M1267.5 600.3V540.4M1261.2 540.4H1273.6" fill="none" stroke="#000" stroke-width="4.2"/>
<path d="M1267.5 658.3V702.8M1261.2 702.8H1273.6" fill="none" stroke="#000" stroke-width="4.2"/>
<rect x="1248.7" y="600.3" width="37.9" height="58" fill="#fff" stroke="#000" stroke-width="4.2"/>
<path d="M1248.7 627.5H1286.6" fill="none" stroke="#000" stroke-width="4.2"/>
<path d="M1349.2 327V220.1M1342.9 220.1H1355.3" fill="none" stroke="#000" stroke-width="4.2"/>
<path d="M1349.2 518.8V574M1342.9 574H1355.3" fill="none" stroke="#000" stroke-width="4.2"/>
<rect x="1329.4" y="327" width="38.9" height="191.8" fill="#fff" stroke="#000" stroke-width="4.2"/>
<path d="M1329.4 437.5H1368.3" fill="none" stroke="#000" stroke-width="4.2"/>
<path d="M1433.2 582.8V549.6M1426.9 549.6H1439.3" fill="none" stroke="#000" stroke-width="4.2"/>
<path d="M1433.2 683.5V703M1426.9 703H1439.3" fill="none" stroke="#000" stroke-width="4.2"/>
<rect x="1413.1" y="582.8" width="39.4" height="100.7" fill="#fff" stroke="#000" stroke-width="4.2"/>
<path d="M1413.1 669.4H1452.5" fill="none" stroke="#000" stroke-width="4.2"/>
<path d="M143 138.06H154.3V745.8M143 736.6H1475.9V745.8" fill="none" stroke="#000" stroke-width="4.4" stroke-linejoin="round"/>
<path d="M143 197H154.3M143 256.8H154.3M143 316.2H154.3M143 377.7H154.3M143 436.9H154.3M143 496.7H154.3M143 556.6H154.3M143 615.7H154.3M143 674.9H154.3M236.9 736.6V745.8M319.5 736.6V745.8M402.1 736.6V745.8M484.7 736.6V745.8M567.3 736.6V745.8M649.9 736.6V745.8M732.5 736.6V745.8M815.1 736.6V745.8M897.7 736.6V745.8M980.3 736.6V745.8M1062.9 736.6V745.8M1145.5 736.6V745.8M1228.1 736.6V745.8M1310.7 736.6V745.8M1393.3 736.6V745.8" fill="none" stroke="#000" stroke-width="3.9"/>
<text transform="translate(132.2 152.7) scale(0.97 1)" font-size="38" font-weight="bold" text-anchor="end">1.0</text>
<text transform="translate(132.2 212.31) scale(0.97 1)" font-size="38" font-weight="bold" text-anchor="end">0.9</text>
<text transform="translate(132.2 271.92) scale(0.97 1)" font-size="38" font-weight="bold" text-anchor="end">0.8</text>
<text transform="translate(132.2 331.53) scale(0.97 1)" font-size="38" font-weight="bold" text-anchor="end">0.7</text>
<text transform="translate(132.2 391.14) scale(0.97 1)" font-size="38" font-weight="bold" text-anchor="end">0.6</text>
<text transform="translate(132.2 450.75) scale(0.97 1)" font-size="38" font-weight="bold" text-anchor="end">0.5</text>
<text transform="translate(132.2 510.36) scale(0.97 1)" font-size="38" font-weight="bold" text-anchor="end">0.4</text>
<text transform="translate(132.2 569.97) scale(0.97 1)" font-size="38" font-weight="bold" text-anchor="end">0.3</text>
<text transform="translate(132.2 629.58) scale(0.97 1)" font-size="38" font-weight="bold" text-anchor="end">0.2</text>
<text transform="translate(132.2 689.19) scale(0.97 1)" font-size="38" font-weight="bold" text-anchor="end">0.1</text>
<text transform="translate(132.2 748.8) scale(0.97 1)" font-size="38" font-weight="bold" text-anchor="end">0.0</text>
<text transform="translate(48.4 460.45) rotate(-90)" font-size="35" font-weight="bold" text-anchor="middle">Salivary cortisol concentration (μg/dL)</text>
<text x="197.6" y="767.5" font-size="24.3" text-anchor="middle" class="t">05:00</text>
<text x="278.7" y="767.5" font-size="24.3" text-anchor="middle" class="t">06:00</text>
<text x="363.1" y="767.5" font-size="24.3" text-anchor="middle" class="t">07:00</text>
<text x="444.1" y="767.5" font-size="24.3" text-anchor="middle" class="t">08:00</text>
<text x="524.7" y="767.5" font-size="24.3" text-anchor="middle" class="t">12:00</text>
<text x="609.8" y="767.5" font-size="24.3" text-anchor="middle" class="t">15:00</text>
<text x="691.2" y="767.5" font-size="24.3" text-anchor="middle" class="t">16:00</text>
<text x="775.7" y="767.5" font-size="24.3" text-anchor="middle" class="t">19:00</text>
<text x="854.3" y="767.5" font-size="24.3" text-anchor="middle" class="t">05:00</text>
<text x="937.7" y="767.5" font-size="24.3" text-anchor="middle" class="t">06:00</text>
<text x="1023.2" y="767.5" font-size="24.3" text-anchor="middle" class="t">07:00</text>
<text x="1104.8" y="767.5" font-size="24.3" text-anchor="middle" class="t">08:00</text>
<text x="1187.4" y="767.5" font-size="24.3" text-anchor="middle" class="t">12:00</text>
<text x="1269.7" y="767.5" font-size="24.3" text-anchor="middle" class="t">15:00</text>
<text x="1353.1" y="767.5" font-size="24.3" text-anchor="middle" class="t">16:00</text>
<text x="1434.4" y="767.5" font-size="24.3" text-anchor="middle" class="t">19:00</text>
<text x="1472.6" y="767.5" font-size="24.3" class="t">(h)</text>
<rect x="159" y="784.6" width="1308.1" height="49.6" fill="#fff" stroke="#000" stroke-width="3.9"/>
<path d="M813 784.6V834.2" stroke="#000" stroke-width="4"/>
<text x="475.5" y="823.1" font-size="35" font-weight="bold" text-anchor="middle">Higher-day 1</text>
<text x="1131" y="823.1" font-size="35" font-weight="bold" text-anchor="middle">Higher-day 2</text>
<text x="-0.4" y="47.1" font-size="50" font-weight="bold">A</text>
<rect x="238" y="935.8" width="164" height="730.95" fill="url(#dotsB)"/>
<rect x="568" y="935.8" width="164" height="730.95" fill="url(#dotsB)"/>
<rect x="898" y="935.8" width="164" height="730.95" fill="url(#dotsB)"/>
<rect x="1228" y="935.8" width="165" height="730.95" fill="url(#dotsB)"/>
<rect x="236.35" y="937" width="165.9" height="78.9" fill="none" stroke="#000" stroke-width="1.9"/>
<text x="319.95" y="965.95" font-size="34.8" text-anchor="middle">morning</text>
<text x="320.2" y="1009.3" font-size="34.8" text-anchor="middle">exercise</text>
<text x="283.9" y="1053.3" font-size="31.5" text-anchor="middle">before</text>
<text x="369.45" y="1053.3" font-size="31.5" text-anchor="middle">after</text>
<text x="317.15" y="1130.4" font-size="31.7" text-anchor="middle"><tspan font-style="italic">p</tspan> = 0.002</text>
<path d="M274.2 1155.9V1144.2H360" fill="none" stroke="#000" stroke-width="3.2"/>
<path d="M358.1 1142.6V1155.9" fill="none" stroke="#000" stroke-width="3.9"/>
<rect x="568.05" y="937" width="163.3" height="78.9" fill="none" stroke="#000" stroke-width="1.9"/>
<text x="649.25" y="965.95" font-size="34.8" text-anchor="middle">afternoon</text>
<text x="649.25" y="1009.3" font-size="34.8" text-anchor="middle">exercise</text>
<text x="612.85" y="1053.3" font-size="31.5" text-anchor="middle">before</text>
<text x="695.95" y="1053.3" font-size="31.5" text-anchor="middle">after</text>
<text x="651.15" y="1130.4" font-size="31.7" text-anchor="middle"><tspan font-style="italic">p</tspan> = 0.182</text>
<path d="M608.1 1155.9V1144.2H694.7" fill="none" stroke="#000" stroke-width="3.2"/>
<path d="M692.8 1142.6V1155.9" fill="none" stroke="#000" stroke-width="3.9"/>
<rect x="896.75" y="937" width="165.1" height="78.9" fill="none" stroke="#000" stroke-width="1.9"/>
<text x="980.75" y="965.95" font-size="34.8" text-anchor="middle">morning</text>
<text x="981.05" y="1009.3" font-size="34.8" text-anchor="middle">exercise</text>
<text x="945.75" y="1053.3" font-size="31.5" text-anchor="middle">before</text>
<text x="1030.45" y="1053.3" font-size="31.5" text-anchor="middle">after</text>
<text x="976.85" y="1130.4" font-size="31.7" text-anchor="middle"><tspan font-style="italic">p</tspan> = 0.002</text>
<path d="M933.3 1155.9V1144.2H1019.6" fill="none" stroke="#000" stroke-width="3.2"/>
<path d="M1017.7 1142.6V1155.9" fill="none" stroke="#000" stroke-width="3.9"/>
<rect x="1228.55" y="937" width="164.2" height="78.9" fill="none" stroke="#000" stroke-width="1.9"/>
<text x="1309.95" y="965.95" font-size="34.8" text-anchor="middle">afternoon</text>
<text x="1309.8" y="1009.3" font-size="34.8" text-anchor="middle">exercise</text>
<text x="1271.55" y="1053.3" font-size="31.5" text-anchor="middle">before</text>
<text x="1356.4" y="1053.3" font-size="31.5" text-anchor="middle">after</text>
<text x="1310.1" y="1130.4" font-size="31.7" text-anchor="middle"><tspan font-style="italic">p</tspan> = 0.308</text>
<path d="M1266.5 1155.9V1144.2H1352.4" fill="none" stroke="#000" stroke-width="3.2"/>
<path d="M1350.5 1142.6V1155.9" fill="none" stroke="#000" stroke-width="3.9"/>
<line x1="817.6" y1="1057" x2="817.6" y2="1679.5" stroke="#000" stroke-width="3.1" stroke-dasharray="10.65 3.35" stroke-dashoffset="3.8"/>
<path d="M192.8 1410.2V1361.8M186.5 1361.8H198.9" fill="none" stroke="#000" stroke-width="4.2"/>
<path d="M192.8 1468.8V1482.8M186.5 1482.8H198.9" fill="none" stroke="#000" stroke-width="4.2"/>
<rect x="173.3" y="1410.2" width="38.4" height="58.6" fill="#bfbfbf" stroke="#000" stroke-width="4.2"/>
<path d="M173.3 1429H211.7" fill="none" stroke="#000" stroke-width="4.2"/>
<path d="M276.5 1309.1V1266.6M270.2 1266.6H282.6" fill="none" stroke="#000" stroke-width="4.2"/>
<path d="M276.5 1410.7V1443M270.2 1443H282.6" fill="none" stroke="#000" stroke-width="4.2"/>
<rect x="257.2" y="1309.1" width="38.7" height="101.6" fill="#bfbfbf" stroke="#000" stroke-width="4.2"/>
<path d="M257.2 1352.1H295.9" fill="none" stroke="#000" stroke-width="4.2"/>
<path d="M358.7 1370.9V1332.9M352.4 1332.9H364.8" fill="none" stroke="#000" stroke-width="4.2"/>
<path d="M358.7 1510.9V1513.7M352.4 1513.7H364.8" fill="none" stroke="#000" stroke-width="4.2"/>
<rect x="338.9" y="1370.9" width="38.9" height="140" fill="#bfbfbf" stroke="#000" stroke-width="4.2"/>
<path d="M338.9 1487.8H377.8" fill="none" stroke="#000" stroke-width="4.2"/>
<path d="M442.7 1516.1V1466.6M436.4 1466.6H448.8" fill="none" stroke="#000" stroke-width="4.2"/>
<path d="M442.7 1566.7V1585.7M436.4 1585.7H448.8" fill="none" stroke="#000" stroke-width="4.2"/>
<rect x="422.4" y="1516.1" width="39.4" height="50.6" fill="#bfbfbf" stroke="#000" stroke-width="4.2"/>
<path d="M422.4 1534.6H461.8" fill="none" stroke="#000" stroke-width="4.2"/>
<path d="M523.6 1591.3V1571.8M517.3 1571.8H529.7" fill="none" stroke="#000" stroke-width="4.2"/>
<path d="M523.6 1618.7V1628.5M517.3 1628.5H529.7" fill="none" stroke="#000" stroke-width="4.2"/>
<rect x="504.5" y="1591.3" width="38.2" height="27.4" fill="#bfbfbf" stroke="#000" stroke-width="4.2"/>
<path d="M504.5 1608.6H542.7" fill="none" stroke="#000" stroke-width="4.2"/>
<path d="M607.3 1548.9V1534.9M601 1534.9H613.4" fill="none" stroke="#000" stroke-width="4.2"/>
<path d="M607.3 1612V1635.8M601 1635.8H613.4" fill="none" stroke="#000" stroke-width="4.2"/>
<rect x="588.5" y="1548.9" width="38.4" height="63.1" fill="#bfbfbf" stroke="#000" stroke-width="4.2"/>
<path d="M588.5 1576H626.9" fill="none" stroke="#000" stroke-width="4.2"/>
<path d="M688.7 1501.1V1386.9M682.4 1386.9H694.8" fill="none" stroke="#000" stroke-width="4.2"/>
<path d="M688.7 1592.6V1629.5M682.4 1629.5H694.8" fill="none" stroke="#000" stroke-width="4.2"/>
<rect x="668.4" y="1501.1" width="39.9" height="91.5" fill="#bfbfbf" stroke="#000" stroke-width="4.2"/>
<path d="M668.4 1570H708.3" fill="none" stroke="#000" stroke-width="4.2"/>
<path d="M772.7 1593V1585.7M766.4 1585.7H778.8" fill="none" stroke="#000" stroke-width="4.2"/>
<rect x="752.4" y="1593" width="39.4" height="42.7" fill="#bfbfbf" stroke="#000" stroke-width="4.2"/>
<path d="M752.4 1621.6H791.8" fill="none" stroke="#000" stroke-width="4.2"/>
<path d="M853.6 1364.1V1269.1M847.3 1269.1H859.7" fill="none" stroke="#000" stroke-width="4.2"/>
<path d="M853.6 1435.9V1480.8M847.3 1480.8H859.7" fill="none" stroke="#000" stroke-width="4.2"/>
<rect x="834.5" y="1364.1" width="38.2" height="71.8" fill="#bfbfbf" stroke="#000" stroke-width="4.2"/>
<path d="M834.5 1409.9H872.7" fill="none" stroke="#000" stroke-width="4.2"/>
<path d="M937.5 1278.2V1252.2M931.2 1252.2H943.6" fill="none" stroke="#000" stroke-width="4.2"/>
<path d="M937.5 1417V1454.7M931.2 1454.7H943.6" fill="none" stroke="#000" stroke-width="4.2"/>
<rect x="918.5" y="1278.2" width="38.4" height="138.8" fill="#bfbfbf" stroke="#000" stroke-width="4.2"/>
<path d="M918.5 1338.1H956.9" fill="none" stroke="#000" stroke-width="4.2"/>
<path d="M1018.7 1387.5V1325.9M1012.4 1325.9H1024.8" fill="none" stroke="#000" stroke-width="4.2"/>
<path d="M1018.7 1510.6V1520M1012.4 1520H1024.8" fill="none" stroke="#000" stroke-width="4.2"/>
<rect x="999.4" y="1387.5" width="38.9" height="123.1" fill="#bfbfbf" stroke="#000" stroke-width="4.2"/>
<path d="M999.4 1473.9H1038.3" fill="none" stroke="#000" stroke-width="4.2"/>
<path d="M1102.7 1499.6V1487.8M1096.4 1487.8H1108.8" fill="none" stroke="#000" stroke-width="4.2"/>
<path d="M1102.7 1571.4V1596.9M1096.4 1596.9H1108.8" fill="none" stroke="#000" stroke-width="4.2"/>
<rect x="1083.1" y="1499.6" width="39.4" height="71.8" fill="#bfbfbf" stroke="#000" stroke-width="4.2"/>
<path d="M1083.1 1543.9H1122.5" fill="none" stroke="#000" stroke-width="4.2"/>
<path d="M1183.6 1590.8V1583.7M1177.3 1583.7H1189.7" fill="none" stroke="#000" stroke-width="4.2"/>
<path d="M1183.6 1625V1635.8M1177.3 1635.8H1189.7" fill="none" stroke="#000" stroke-width="4.2"/>
<rect x="1165.3" y="1590.8" width="37.9" height="34.2" fill="#bfbfbf" stroke="#000" stroke-width="4.2"/>
<path d="M1165.3 1606.6H1203.2" fill="none" stroke="#000" stroke-width="4.2"/>
<path d="M1267.5 1534.5V1512.7M1261.2 1512.7H1273.6" fill="none" stroke="#000" stroke-width="4.2"/>
<path d="M1267.5 1569.7V1626.8M1261.2 1626.8H1273.6" fill="none" stroke="#000" stroke-width="4.2"/>
<rect x="1249.2" y="1534.5" width="37.7" height="35.2" fill="#bfbfbf" stroke="#000" stroke-width="4.2"/>
<path d="M1249.2 1552.3H1286.9" fill="none" stroke="#000" stroke-width="4.2"/>
<path d="M1350 1502.1V1438.7M1343.7 1438.7H1356.1" fill="none" stroke="#000" stroke-width="4.2"/>
<path d="M1350 1582.6V1635.8M1343.7 1635.8H1356.1" fill="none" stroke="#000" stroke-width="4.2"/>
<rect x="1329.4" y="1502.1" width="40.6" height="80.5" fill="#bfbfbf" stroke="#000" stroke-width="4.2"/>
<path d="M1329.4 1533.6H1370" fill="none" stroke="#000" stroke-width="4.2"/>
<path d="M1433.2 1626.9V1618.6M1426.9 1618.6H1439.3" fill="none" stroke="#000" stroke-width="4.2"/>
<rect x="1413.1" y="1626.9" width="39.9" height="8.8" fill="#bfbfbf" stroke="#000" stroke-width="4.2"/>
<path d="M143 1069.8H154.3V1678.15M143 1668.95H1475.9V1678.15" fill="none" stroke="#000" stroke-width="4.4" stroke-linejoin="round"/>
<path d="M143 1128.7H154.3M143 1188.8H154.3M143 1248H154.3M143 1309.3H154.3M143 1368.9H154.3M143 1428.9H154.3M143 1488H154.3M143 1548H154.3M143 1606.9H154.3M236.9 1668.95V1678.15M319.5 1668.95V1678.15M402.1 1668.95V1678.15M484.7 1668.95V1678.15M567.3 1668.95V1678.15M649.9 1668.95V1678.15M732.5 1668.95V1678.15M815.1 1668.95V1678.15M897.7 1668.95V1678.15M980.3 1668.95V1678.15M1062.9 1668.95V1678.15M1145.5 1668.95V1678.15M1228.1 1668.95V1678.15M1310.7 1668.95V1678.15M1393.3 1668.95V1678.15" fill="none" stroke="#000" stroke-width="3.9"/>
<text transform="translate(132.2 1084.95) scale(0.97 1)" font-size="38" font-weight="bold" text-anchor="end">1.0</text>
<text transform="translate(132.2 1144.56) scale(0.97 1)" font-size="38" font-weight="bold" text-anchor="end">0.9</text>
<text transform="translate(132.2 1204.17) scale(0.97 1)" font-size="38" font-weight="bold" text-anchor="end">0.8</text>
<text transform="translate(132.2 1263.78) scale(0.97 1)" font-size="38" font-weight="bold" text-anchor="end">0.7</text>
<text transform="translate(132.2 1323.39) scale(0.97 1)" font-size="38" font-weight="bold" text-anchor="end">0.6</text>
<text transform="translate(132.2 1383) scale(0.97 1)" font-size="38" font-weight="bold" text-anchor="end">0.5</text>
<text transform="translate(132.2 1442.61) scale(0.97 1)" font-size="38" font-weight="bold" text-anchor="end">0.4</text>
<text transform="translate(132.2 1502.22) scale(0.97 1)" font-size="38" font-weight="bold" text-anchor="end">0.3</text>
<text transform="translate(132.2 1561.83) scale(0.97 1)" font-size="38" font-weight="bold" text-anchor="end">0.2</text>
<text transform="translate(132.2 1621.44) scale(0.97 1)" font-size="38" font-weight="bold" text-anchor="end">0.1</text>
<text transform="translate(132.2 1681.05) scale(0.97 1)" font-size="38" font-weight="bold" text-anchor="end">0.0</text>
<text transform="translate(42.6 1382.85) rotate(-90)" font-size="35" font-weight="bold" text-anchor="middle">Salivary cortisol concentration (μg/dL)</text>
<text x="197.6" y="1700.8" font-size="24.3" text-anchor="middle" class="t">05:00</text>
<text x="278.7" y="1700.8" font-size="24.3" text-anchor="middle" class="t">06:00</text>
<text x="363.1" y="1700.8" font-size="24.3" text-anchor="middle" class="t">07:00</text>
<text x="444.1" y="1700.8" font-size="24.3" text-anchor="middle" class="t">08:00</text>
<text x="524.7" y="1700.8" font-size="24.3" text-anchor="middle" class="t">12:00</text>
<text x="609.8" y="1700.8" font-size="24.3" text-anchor="middle" class="t">15:00</text>
<text x="691.2" y="1700.8" font-size="24.3" text-anchor="middle" class="t">16:00</text>
<text x="775.7" y="1700.8" font-size="24.3" text-anchor="middle" class="t">19:00</text>
<text x="854.3" y="1700.8" font-size="24.3" text-anchor="middle" class="t">05:00</text>
<text x="937.7" y="1700.8" font-size="24.3" text-anchor="middle" class="t">06:00</text>
<text x="1023.2" y="1700.8" font-size="24.3" text-anchor="middle" class="t">07:00</text>
<text x="1104.8" y="1700.8" font-size="24.3" text-anchor="middle" class="t">08:00</text>
<text x="1187.4" y="1700.8" font-size="24.3" text-anchor="middle" class="t">12:00</text>
<text x="1269.7" y="1700.8" font-size="24.3" text-anchor="middle" class="t">15:00</text>
<text x="1353.1" y="1700.8" font-size="24.3" text-anchor="middle" class="t">16:00</text>
<text x="1434.4" y="1700.8" font-size="24.3" text-anchor="middle" class="t">19:00</text>
<text x="1472.6" y="1700.8" font-size="24.3" class="t">(h)</text>
<rect x="159" y="1714.9" width="1308.1" height="49.6" fill="#d9d9d9" stroke="#000" stroke-width="3.9"/>
<path d="M811.9 1714.9V1764.5" stroke="#000" stroke-width="4"/>
<text x="475" y="1753.4" font-size="35" font-weight="bold" text-anchor="middle">Lower-day 1</text>
<text x="1130.2" y="1753.4" font-size="35" font-weight="bold" text-anchor="middle">Lower-day 2</text>
<text x="0.7" y="988.3" font-size="50.5" font-weight="bold">B</text>
</svg>
</body></html>
